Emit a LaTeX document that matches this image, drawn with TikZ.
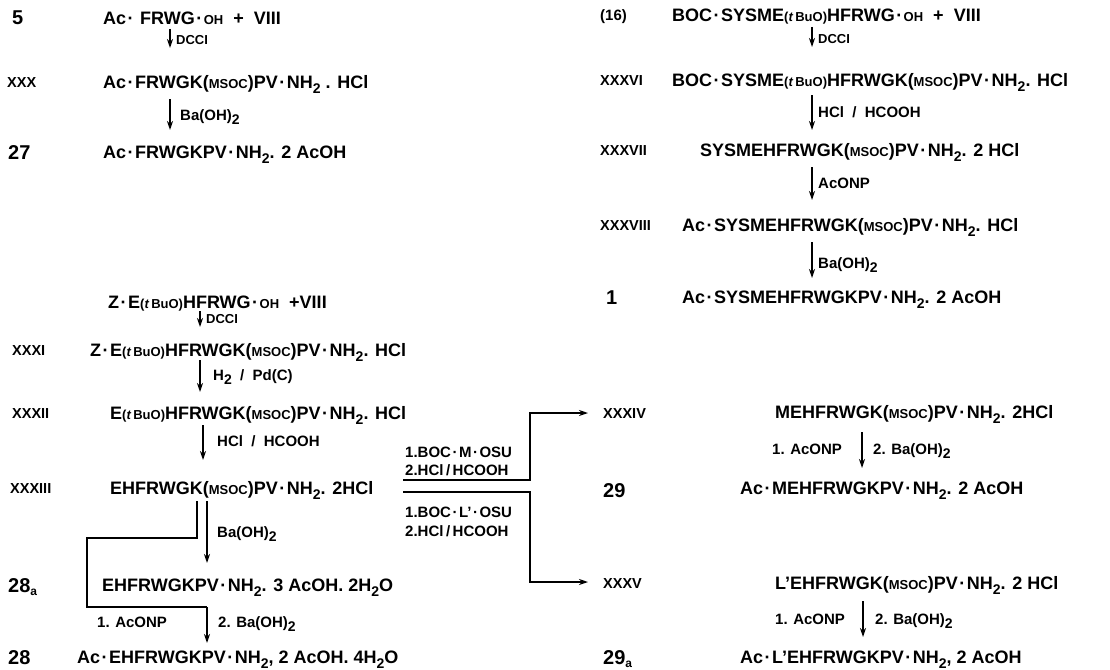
\documentclass[tikz,border=0pt]{standalone}
\usepackage{fontspec}
\setmainfont{Liberation Sans}
\usetikzlibrary{arrows.meta}
\newcommand\dd{\kern1.5pt·\kern1.5pt}
\newcommand\sbt[1]{\raisebox{-0.5ex}{\fontsize{14}{14}\selectfont #1}}
\newcommand\sm[1]{{\fontsize{13}{13}\selectfont #1}}
\newcommand\tbu{\sm{(\textit{t}\kern2pt BuO)}}
\newcommand\suba[1]{#1\raisebox{-0.3ex}{\fontsize{12}{12}\selectfont a}}
\begin{document}
\begin{tikzpicture}[x=1pt,y=-1pt,
 txt/.style={anchor=west,inner sep=0pt,font=\bfseries\fontsize{18}{18}\selectfont,text height=12.5pt,text depth=0pt},
 lab/.style={anchor=west,inner sep=0pt,font=\bfseries\fontsize{14.5}{14.5}\selectfont,text height=10.5pt,text depth=0pt},
 num/.style={anchor=west,inner sep=0pt,font=\bfseries\fontsize{20}{20}\selectfont,text height=14pt,text depth=0pt},
 rg/.style={anchor=west,inner sep=0pt,font=\bfseries\fontsize{15}{15}\selectfont,text height=10.5pt,text depth=0pt},
 arr/.style={line width=1.6pt,-{Stealth[length=9pt,width=6pt]}},
 ln/.style={line width=1.6pt}]
\fill[white] (0,0) rectangle (1110,669);
\useasboundingbox (0,0) rectangle (1110,669);

% ---------- top left ----------
\node[num] (n5) at (12,18) {5};
\node[txt] (r5) at (103,18) {Ac\dd\ FRWG\dd\sm{OH}\ \ +\ \ VIII};
\draw[arr] (170,29) coordinate (a1s) -- (170,48) coordinate (a1e);
\node[rg] (g1) at (176,39) {\sm{DCCI}};
\node[lab] (lXXX) at (7,82) {XXX};
\node[txt] (rXXX) at (103,82) {Ac\dd FRWGK(\sm{MSOC})PV\dd NH\sbt{2} . HCl};
\draw[arr] (170,99) coordinate (a2s) -- (170,130) coordinate (a2e);
\node[rg] (g2) at (180,115) {Ba(OH)\sbt{2}};
\node[num] (n27) at (8,152) {27};
\node[txt] (r27) at (103,152) {Ac\dd FRWGKPV\dd NH\sbt{2}. 2 AcOH};

% ---------- middle left ----------
\node[txt] (rZE) at (108,302) {Z\dd E\tbu HFRWG\dd\sm{OH}\ \ +VIII};
\draw[arr] (200,311) coordinate (a3s) -- (200,327) coordinate (a3e);
\node[rg] (g3) at (206,318) {\sm{DCCI}};
\node[lab] (lXXXI) at (12,350) {XXXI};
\node[txt] (rXXXI) at (90,350) {Z\dd E\tbu HFRWGK(\sm{MSOC})PV\dd NH\sbt{2}. HCl};
\draw[arr] (200,360) coordinate (a4s) -- (200,392) coordinate (a4e);
\node[rg] (g4) at (213,375) {H\sbt{2} \ / \ Pd(C)};
\node[lab] (lXXXII) at (12,413) {XXXII};
\node[txt] (rXXXII) at (110,413) {E\tbu HFRWGK(\sm{MSOC})PV\dd NH\sbt{2}. HCl};
\draw[arr] (203,425) coordinate (a5s) -- (203,460) coordinate (a5e);
\node[rg] (g5) at (217,441) {HCl \ / \ HCOOH};
\node[lab] (lXXXIII) at (10,488) {XXXIII};
\node[txt] (rXXXIII) at (110,488) {EHFRWGK(\sm{MSOC})PV\dd NH\sbt{2}. 2HCl};
\draw[arr] (207,501) coordinate (a6s) -- (207,563) coordinate (a6e);
\draw[ln] (197,501) coordinate (b1) -- (197,538) -- (87,538) -- (87,607) -- (207,607) coordinate (b2);
\node[rg] (g6) at (217,532) {Ba(OH)\sbt{2}};
\node[num] (n28a) at (8,585) {\suba{28}};
\node[txt] (r28a) at (102,585) {EHFRWGKPV\dd NH\sbt{2}. 3 AcOH. 2H\sbt{2}O};
\draw[arr] (b2) -- (207,643) coordinate (a7e);
\node[rg] (g7a) at (97,622) {1. AcONP};
\node[rg] (g7b) at (218,622) {2. Ba(OH)\sbt{2}};
\node[num] (n28) at (8,657) {28};
\node[txt] (r28) at (77,657) {Ac\dd EHFRWGKPV\dd NH\sbt{2}, 2 AcOH. 4H\sbt{2}O};

% ---------- central connectors ----------
\draw[arr] (403,480) coordinate (c1) -- (530,480) -- (530,413) -- (588,413) coordinate (c1e);
\draw[arr] (403,492) coordinate (c2) -- (530,492) -- (530,582) -- (588,582) coordinate (c2e);
\node[rg] (m1) at (405,452) {1.BOC\dd M\dd OSU};
\node[rg] (m2) at (405,470) {2.HCl\,/\,HCOOH};
\node[rg] (m3) at (405,512) {1.BOC\dd L’\dd OSU};
\node[rg] (m4) at (405,531) {2.HCl\,/\,HCOOH};

% ---------- top right ----------
\node[rg] (l16) at (600,15) {(16)};
\node[txt] (r16) at (672,15) {BOC\dd SYSME\tbu HFRWG\dd\sm{OH}\ \ +\ \ VIII};
\draw[arr] (812,27) coordinate (d1s) -- (812,47) coordinate (d1e);
\node[rg] (h1) at (818,38) {\sm{DCCI}};
\node[lab] (lXXXVI) at (600,80) {XXXVI};
\node[txt] (rXXXVI) at (672,80) {BOC\dd SYSME\tbu HFRWGK(\sm{MSOC})PV\dd NH\sbt{2}. HCl};
\draw[arr] (812,95) coordinate (d2s) -- (812,130) coordinate (d2e);
\node[rg] (h2) at (818,112) {HCl \ / \ HCOOH};
\node[lab] (lXXXVII) at (600,150) {XXXVII};
\node[txt] (rXXXVII) at (700,150) {SYSMEHFRWGK(\sm{MSOC})PV\dd NH\sbt{2}. 2 HCl};
\draw[arr] (812,167) coordinate (d3s) -- (812,200) coordinate (d3e);
\node[rg] (h3) at (818,183) {AcONP};
\node[lab] (lXXXVIII) at (600,225) {XXXVIII};
\node[txt] (rXXXVIII) at (682,225) {Ac\dd SYSMEHFRWGK(\sm{MSOC})PV\dd NH\sbt{2}. HCl};
\draw[arr] (812,242) coordinate (d4s) -- (812,278) coordinate (d4e);
\node[rg] (h4) at (818,263) {Ba(OH)\sbt{2}};
\node[num] (n1) at (606,297) {1};
\node[txt] (r1) at (682,297) {Ac\dd SYSMEHFRWGKPV\dd NH\sbt{2}. 2 AcOH};

% ---------- bottom right ----------
\node[lab] (lXXXIV) at (603,413) {XXXIV};
\node[txt] (rXXXIV) at (775,412) {MEHFRWGK(\sm{MSOC})PV\dd NH\sbt{2}. 2HCl};
\node[rg] (k1a) at (772,449) {1. AcONP};
\draw[arr] (862,432) coordinate (e1s) -- (862,468) coordinate (e1e);
\node[rg] (k1b) at (873,449) {2. Ba(OH)\sbt{2}};
\node[num] (n29) at (603,490) {29};
\node[txt] (r29) at (740,488) {Ac\dd MEHFRWGKPV\dd NH\sbt{2}. 2 AcOH};
\node[lab] (lXXXV) at (603,583) {XXXV};
\node[txt] (rXXXV) at (775,583) {L’EHFRWGK(\sm{MSOC})PV\dd NH\sbt{2}. 2 HCl};
\node[rg] (k2a) at (775,619) {1. AcONP};
\draw[arr] (863,601) coordinate (e2s) -- (863,637) coordinate (e2e);
\node[rg] (k2b) at (875,619) {2. Ba(OH)\sbt{2}};
\node[num] (n29a) at (603,657) {\suba{29}};
\node[txt] (r29a) at (740,657) {Ac\dd L’EHFRWGKPV\dd NH\sbt{2}, 2 AcOH};
\end{tikzpicture}
\end{document}
